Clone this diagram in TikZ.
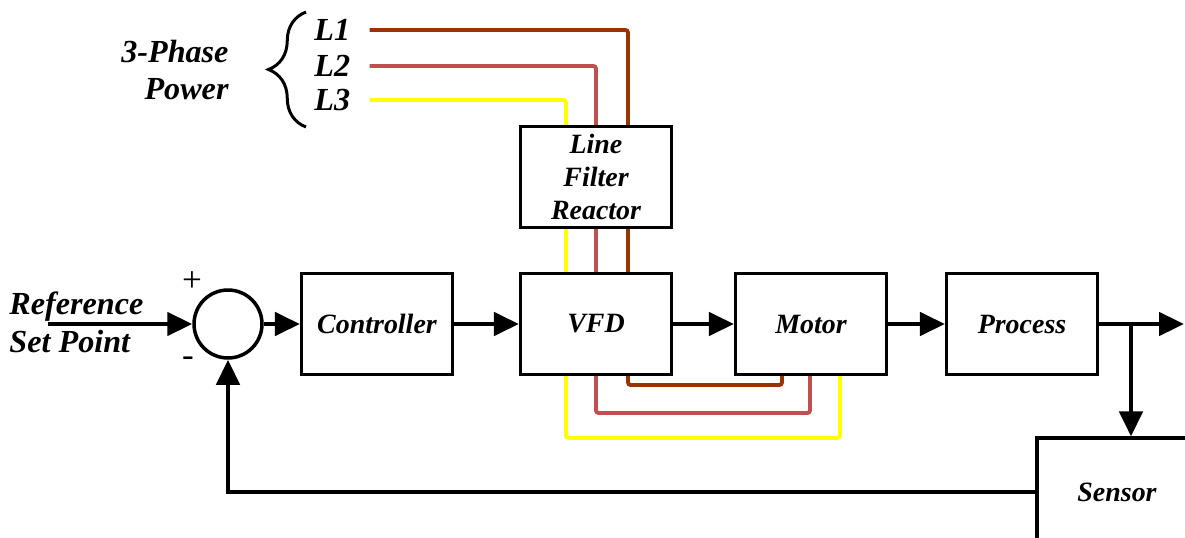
\documentclass[tikz,border=0pt]{standalone}
\usepackage{fontspec}
\setmainfont{Liberation Serif}
\usetikzlibrary{arrows.meta,positioning,calc,decorations.pathreplacing}
\definecolor{phaseA}{RGB}{153,51,0}
\definecolor{phaseB}{RGB}{192,80,77}
\definecolor{phaseC}{RGB}{255,255,0}
\tikzset{
  every picture/.style={line width=1.7pt},
  sblock/.style={draw, line width=1.8pt, minimum width=3.02cm, minimum height=2.02cm,
                 inner sep=0pt, align=center,
                 font=\fontsize{15.9}{18.7}\selectfont\bfseries\itshape},
  ssum/.style={draw, circle, line width=2pt, minimum size=1.36cm, inner sep=0pt},
  ssig/.style={line width=2.6pt, -{Triangle[length=5mm,width=4.6mm]}},
  sphase/.style={line width=2.2pt, rounded corners=1.5pt},
  sA/.style={sphase, draw=phaseA},
  sB/.style={sphase, draw=phaseB},
  sC/.style={sphase, draw=phaseC},
  slabel/.style={inner sep=0pt, font=\fontsize{18.3}{21.5}\selectfont\bfseries\itshape},
  ssign/.style={inner sep=0pt, font=\fontsize{20}{22}\selectfont},
}

\begin{document}
\begin{tikzpicture}[x=0.02cm,y=-0.02cm]
\useasboundingbox (0,0) rectangle (1185,537);
\clip (0,0) rectangle (1185,537);
% loop blocks
\node[ssum] (sum) at (228,324) {};
\node[sblock] (ctrl) at (377,324) {Controller};
\node[sblock] (vfd) at (596,324) {VFD};
\node[sblock] (motor) at (811,324) {Motor};
\node[sblock] (proc) at (1022,324) {Process};
\node[sblock,minimum width=3.2cm,minimum height=2.16cm] (sensor) at (1117,492) {Sensor};
\node[sblock] (lfr) at (596,177) {Line\\Filter\\Reactor};
% labels
\node[slabel,align=left,anchor=west] (ref) at (8,322) {Reference\\Set Point};
\coordinate (refin) at (48,324);
\node[ssign] (plus) at (192,282) {+};
\node[ssign] (minus) at (188,362) {-};
\node[slabel,align=right,anchor=east] (pwr) at (230,70) {3-Phase\\Power};
\node[slabel,anchor=west] (l1) at (313,30) {L1};
\node[slabel,anchor=west] (l2) at (313,66) {L2};
\node[slabel,anchor=west] (l3) at (313,100) {L3};
\draw[line width=1.7pt, decorate, decoration={brace,amplitude=0.75cm}]
  (306,127) -- (306,12);
% signal flow
\coordinate (tap) at (1131,324);
\coordinate (out) at (1184,324);
\draw[ssig] (refin) -- (sum.west);
\draw[ssig] (sum.east) -- (ctrl.west);
\draw[ssig] (ctrl) -- (vfd);
\draw[ssig] (vfd) -- (motor);
\draw[ssig] (motor) -- (proc);
\draw[ssig] (proc.east) -- (out);
\draw[ssig] (tap) -- (tap |- sensor.north);
\draw[ssig] (sensor.west) -| (sum.south);
% phase wiring
\coordinate (xa) at (628,0);
\coordinate (xb) at (596,0);
\coordinate (xc) at (566,0);
\coordinate (ma) at (782,0);
\coordinate (mb) at (810,0);
\coordinate (mc) at (840,0);
\draw[sA] ([xshift=0.36cm]l1.east) -| (xa |- lfr.north);
\draw[sB] ([xshift=0.36cm]l2.east) -| (xb |- lfr.north);
\draw[sC] ([xshift=0.36cm]l3.east) -| (xc |- lfr.north);
\draw[sA] (xa |- lfr.south) -- (xa |- vfd.north);
\draw[sB] (xb |- lfr.south) -- (xb |- vfd.north);
\draw[sC] (xc |- lfr.south) -- (xc |- vfd.north);
\draw[sA] (xa |- vfd.south) |- (ma |- 0,385) -- (ma |- motor.south);
\draw[sB] (xb |- vfd.south) |- (mb |- 0,413) -- (mb |- motor.south);
\draw[sC] (xc |- vfd.south) |- (mc |- 0,438) -- (mc |- motor.south);
\end{tikzpicture}
\end{document}
